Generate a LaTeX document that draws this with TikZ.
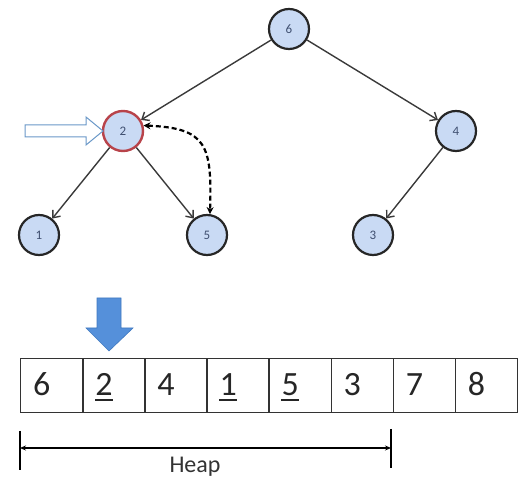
\documentclass[tikz,border=0pt]{standalone}
\usepackage{fontspec}
\setmainfont{Carlito}
\usetikzlibrary{arrows.meta}
\definecolor{nodefill}{HTML}{C9DAF4}
\definecolor{nodetext}{HTML}{3F4F70}
\definecolor{edgecol}{HTML}{3A3A3A}
\definecolor{redb}{HTML}{B8434A}
\definecolor{bluearr}{HTML}{5590DA}
\definecolor{bluearrd}{HTML}{3F78C0}
\definecolor{hollow}{HTML}{6A98C8}
\tikzset{
  tnode/.style={circle,draw=black!85,line width=2.2pt,fill=nodefill,minimum size=40pt,inner sep=0pt,font=\fontsize{13}{13}\selectfont,text=nodetext},
  redn/.style={tnode,draw=redb,line width=2.4pt},
  tedge/.style={draw=edgecol,line width=1.4pt,-{Straight Barb[length=6pt,width=10pt]}},
  cell/.style={draw=black!80,line width=1.4pt,minimum width=62.1pt,minimum height=54pt,inner sep=0pt,anchor=north west},
  celltxt/.style={font=\fontsize{34}{34}\selectfont,text=black!85,anchor=base west,inner sep=0pt},
  dim/.style={line width=2pt,black},
}
\newcommand{\ul}[1]{\underline{#1}}
\begin{document}
\begin{tikzpicture}[x=1pt,y=-1pt]
\useasboundingbox (0,0) rectangle (531,486);
% tree nodes
\node[tnode] (n6) at (289,29) {6};
\node[redn] (n2) at (123,131) {2};
\node[tnode] (n4) at (456,131) {4};
\node[tnode] (n1) at (39,235) {1};
\node[tnode] (n5) at (207,235) {5};
\node[tnode] (n3) at (373,235) {3};
\draw[tedge] (n6) -- (n2);
\draw[tedge] (n6) -- (n4);
\draw[tedge] (n2) -- (n1);
\draw[tedge] (n2) -- (n5);
\draw[tedge] (n4) -- (n3);
% dashed swap arrow
\draw[black,line width=2.2pt,dash pattern=on 5pt off 3pt,{Stealth[length=7pt,width=7pt]}-{Stealth[length=7pt,width=7pt]}]
  (n2.15) .. controls (207,128) and (212,145) .. (n5.82);
% hollow pointer arrow
\draw[draw=hollow,fill=white,line width=1pt,line join=miter]
  (25,125) -- (86,125) -- (86,117) -- (103,131) -- (86,145) -- (86,137) -- (25,137) -- cycle;
% blue down arrow
\draw[draw=bluearrd,fill=bluearr,line width=0.6pt,line join=miter]
  (97,298) -- (121,298) -- (121,328) -- (133,328) -- (109,351) -- (86,328) -- (97,328) -- cycle;
% array
\foreach \v/\u [count=\i from 0] in {6/0,2/1,4/0,1/1,5/1,3/0,7/0,8/0}{
  \node[cell] (c\i) at ({20+62.1*\i},358) {};
  \ifnum\u=1
    \node[celltxt] (t\i) at ({33+62.1*\i},396) {\v};
    \draw[line width=1.6pt,black!85] ([yshift=-4pt]t\i.base west) -- ([yshift=-4pt]t\i.base east);
  \else
    \node[celltxt] (t\i) at ({33+62.1*\i},396) {\v};
  \fi
}
% heap dimension
\coordinate (hl) at (20,448);
\coordinate (hr) at (391,448);
\draw[dim] (20,431) -- (20,470);
\draw[dim] (391,429) -- (391,468);
\draw[line width=1.8pt,{Stealth[length=6pt,width=5pt]}-{Stealth[length=6pt,width=5pt]}] (hl) -- (hr);
\node[font=\fontsize{24}{24}\selectfont,text=black!80,anchor=base] (heap) at (195,473) {Heap};
\end{tikzpicture}
\end{document}
